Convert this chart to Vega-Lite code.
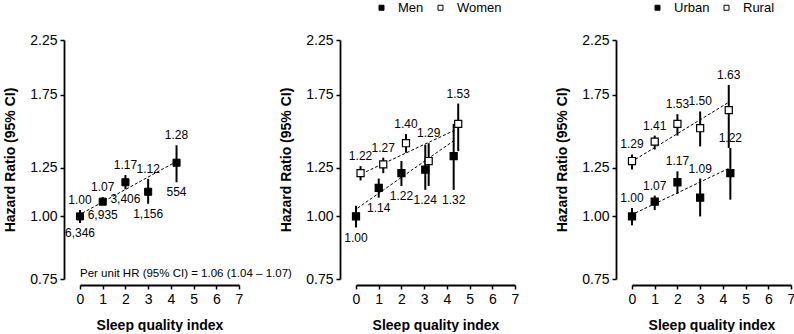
{
  "$schema": "https://vega.github.io/schema/vega-lite/v6.json",
  "padding": {"left": 3, "top": 1, "right": 0, "bottom": 0},
  "bounds": "flush",
  "spacing": 117,
  "config": {
    "font": "Liberation Sans",
    "view": {"stroke": null},
    "axis": {
      "grid": false,
      "domainColor": "black",
      "domainWidth": 1.8,
      "tickColor": "black",
      "tickWidth": 1.5,
      "tickSize": 4,
      "labelColor": "black",
      "labelFontSize": 14,
      "labelPadding": 3,
      "labelFlush": false,
      "labelOverlap": false,
      "titleColor": "black",
      "titleFontSize": 14,
      "titleFontWeight": "bold"
    },
    "legend": {
      "orient": "none",
      "legendX": 19,
      "legendY": -39,
      "direction": "horizontal",
      "symbolType": "square",
      "symbolSize": 25,
      "symbolStrokeColor": "black",
      "symbolStrokeWidth": 1,
      "labelFontSize": 13,
      "labelColor": "black",
      "labelOffset": 10,
      "columnPadding": 10
    },
    "text": {"fontSize": 12, "color": "black"}
  },
  "datasets": {
    "pts": [
      {"panel": "all", "group": "All", "x": 0, "hr": 1.00, "lo": 0.97, "hi": 1.03, "n": "6,346"},
      {"panel": "all", "group": "All", "x": 1, "hr": 1.07, "lo": 1.055, "hi": 1.093, "n": "6,935"},
      {"panel": "all", "group": "All", "x": 2, "hr": 1.17, "lo": 1.133, "hi": 1.21, "n": "3,406"},
      {"panel": "all", "group": "All", "x": 3, "hr": 1.12, "lo": 1.06, "hi": 1.188, "n": "1,156"},
      {"panel": "all", "group": "All", "x": 4.25, "hr": 1.28, "lo": 1.17, "hi": 1.387, "n": "554"},

      {"panel": "sex", "group": "Men", "x": 0, "hr": 1.00, "lo": 0.95, "hi": 1.05},
      {"panel": "sex", "group": "Men", "x": 1, "hr": 1.14, "lo": 1.09, "hi": 1.19},
      {"panel": "sex", "group": "Men", "x": 2, "hr": 1.22, "lo": 1.15, "hi": 1.29},
      {"panel": "sex", "group": "Men", "x": 3.05, "hr": 1.24, "lo": 1.13, "hi": 1.39},
      {"panel": "sex", "group": "Men", "x": 4.3, "hr": 1.32, "lo": 1.13, "hi": 1.53},
      {"panel": "sex", "group": "Women", "x": 0.2, "hr": 1.22, "lo": 1.18, "hi": 1.26},
      {"panel": "sex", "group": "Women", "x": 1.2, "hr": 1.27, "lo": 1.22, "hi": 1.31},
      {"panel": "sex", "group": "Women", "x": 2.2, "hr": 1.40, "lo": 1.34, "hi": 1.46},
      {"panel": "sex", "group": "Women", "x": 3.2, "hr": 1.29, "lo": 1.15, "hi": 1.40},
      {"panel": "sex", "group": "Women", "x": 4.5, "hr": 1.53, "lo": 1.35, "hi": 1.68},

      {"panel": "area", "group": "Urban", "x": 0, "hr": 1.00, "lo": 0.96, "hi": 1.04},
      {"panel": "area", "group": "Urban", "x": 1, "hr": 1.07, "lo": 1.03, "hi": 1.10},
      {"panel": "area", "group": "Urban", "x": 2, "hr": 1.17, "lo": 1.11, "hi": 1.23},
      {"panel": "area", "group": "Urban", "x": 3, "hr": 1.09, "lo": 1.00, "hi": 1.19},
      {"panel": "area", "group": "Urban", "x": 4.33, "hr": 1.22, "lo": 1.08, "hi": 1.37},
      {"panel": "area", "group": "Rural", "x": 0, "hr": 1.29, "lo": 1.24, "hi": 1.33},
      {"panel": "area", "group": "Rural", "x": 1, "hr": 1.41, "lo": 1.36, "hi": 1.45},
      {"panel": "area", "group": "Rural", "x": 2, "hr": 1.53, "lo": 1.45, "hi": 1.60},
      {"panel": "area", "group": "Rural", "x": 3, "hr": 1.50, "lo": 1.38, "hi": 1.62},
      {"panel": "area", "group": "Rural", "x": 4.26, "hr": 1.63, "lo": 1.37, "hi": 1.83}
    ],
    "trend": [
      {"panel": "all", "group": "All", "x": 0.1, "y": 1.015},
      {"panel": "all", "group": "All", "x": 4.15, "y": 1.28},
      {"panel": "sex", "group": "Men", "x": 0.07, "y": 1.039},
      {"panel": "sex", "group": "Men", "x": 4.34, "y": 1.42},
      {"panel": "sex", "group": "Women", "x": 0.44, "y": 1.228},
      {"panel": "sex", "group": "Women", "x": 4.34, "y": 1.486},
      {"panel": "area", "group": "Urban", "x": 0.15, "y": 1.016},
      {"panel": "area", "group": "Urban", "x": 4.26, "y": 1.247},
      {"panel": "area", "group": "Rural", "x": 0.15, "y": 1.30},
      {"panel": "area", "group": "Rural", "x": 4.26, "y": 1.69}
    ]
  },
  "resolve": {
    "scale": {"fill": "independent"},
    "legend": {"fill": "independent"}
  },
  "hconcat": [
    {
      "width": 159,
      "height": 239,
      "layer": [
        {
          "encoding": {
            "x": {"field": "x", "type": "quantitative", "scale": {"domain": [0, 7], "nice": false, "zero": false},
                  "axis": {"values": [0, 1, 2, 3, 4, 5, 6, 7], "tickCount": 8, "offset": 6, "title": "Sleep quality index", "titlePadding": 12}}
          },
          "layer": [
            {
              "data": {"name": "trend"},
              "transform": [{"filter": "datum.panel === 'all'"}],
              "mark": {"type": "line", "strokeDash": [3, 2], "strokeWidth": 1, "color": "black"},
              "encoding": {
                "y": {"field": "y", "type": "quantitative", "scale": {"type": "log", "domain": [0.75, 2.25], "nice": false, "zero": false},
                      "axis": {"values": [0.75, 1, 1.25, 1.75, 2.25], "format": ".2f", "offset": 16, "title": "Hazard Ratio (95% CI)", "titlePadding": 12}},
                "detail": {"field": "group"}
              }
            },
            {
              "data": {"name": "pts"},
              "transform": [{"filter": "datum.panel === 'all'"}],
              "mark": {"type": "rule", "strokeWidth": 2, "color": "black"},
              "encoding": {
                "y": {"field": "lo", "type": "quantitative"},
                "y2": {"field": "hi"}
              }
            },
            {
              "data": {"name": "pts"},
              "transform": [{"filter": "datum.panel === 'all'"}],
              "mark": {"type": "point", "shape": "square", "size": 50, "filled": true, "fill": "black", "stroke": "black", "strokeWidth": 1, "opacity": 1},
              "encoding": {
                "y": {"field": "hr", "type": "quantitative"}
              }
            },
            {
              "data": {"name": "pts"},
              "transform": [{"filter": "datum.panel === 'all'"}],
              "mark": {"type": "text", "baseline": "middle", "dy": -10},
              "encoding": {
                "y": {"field": "hi", "type": "quantitative"},
                "text": {"field": "hr", "type": "quantitative", "format": ".2f"}
              }
            },
            {
              "data": {"name": "pts"},
              "transform": [{"filter": "datum.panel === 'all'"}],
              "mark": {"type": "text", "baseline": "middle", "dy": 10},
              "encoding": {
                "y": {"field": "lo", "type": "quantitative"},
                "text": {"field": "n", "type": "nominal"}
              }
            }
          ]
        },
        {
          "data": {"values": [{"note": "Per unit HR (95% CI) = 1.06 (1.04 – 1.07)"}]},
          "mark": {"type": "text", "align": "left", "baseline": "alphabetic", "dy": -2, "fontSize": 11.5},
          "encoding": {
            "x": {"datum": 0, "type": "quantitative"},
            "y": {"datum": 0.75, "type": "quantitative"},
            "text": {"field": "note", "type": "nominal"}
          }
        }
      ]
    },
    {
      "width": 159,
      "height": 239,
      "encoding": {
        "x": {"field": "x", "type": "quantitative", "scale": {"domain": [0, 7], "nice": false, "zero": false},
              "axis": {"values": [0, 1, 2, 3, 4, 5, 6, 7], "tickCount": 8, "offset": 6, "title": "Sleep quality index", "titlePadding": 12}}
      },
      "layer": [
        {
          "data": {"name": "trend"},
          "transform": [{"filter": "datum.panel === 'sex'"}],
          "mark": {"type": "line", "strokeDash": [3, 2], "strokeWidth": 1, "color": "black"},
          "encoding": {
            "y": {"field": "y", "type": "quantitative", "scale": {"type": "log", "domain": [0.75, 2.25], "nice": false, "zero": false},
                  "axis": {"values": [0.75, 1, 1.25, 1.75, 2.25], "format": ".2f", "offset": 16, "title": "Hazard Ratio (95% CI)", "titlePadding": 12}},
            "detail": {"field": "group"}
          }
        },
        {
          "data": {"name": "pts"},
          "transform": [{"filter": "datum.panel === 'sex'"}],
          "mark": {"type": "rule", "strokeWidth": 2, "color": "black"},
          "encoding": {
            "y": {"field": "lo", "type": "quantitative"},
            "y2": {"field": "hi"}
          }
        },
        {
          "data": {"name": "pts"},
          "transform": [{"filter": "datum.panel === 'sex'"}],
          "mark": {"type": "point", "shape": "square", "size": 50, "filled": true, "stroke": "black", "strokeWidth": 1.2, "opacity": 1},
          "encoding": {
            "y": {"field": "hr", "type": "quantitative"},
            "fill": {"field": "group", "type": "nominal", "scale": {"domain": ["Men", "Women"], "range": ["black", "white"]}, "legend": {"title": null}}
          }
        },
        {
          "data": {"name": "pts"},
          "transform": [{"filter": "datum.panel === 'sex' && datum.group === 'Women'"}],
          "mark": {"type": "text", "baseline": "middle", "dy": -10},
          "encoding": {
            "y": {"field": "hi", "type": "quantitative"},
            "text": {"field": "hr", "type": "quantitative", "format": ".2f"}
          }
        },
        {
          "data": {"name": "pts"},
          "transform": [{"filter": "datum.panel === 'sex' && datum.group === 'Men'"}],
          "mark": {"type": "text", "baseline": "middle", "dy": 10},
          "encoding": {
            "y": {"field": "lo", "type": "quantitative"},
            "text": {"field": "hr", "type": "quantitative", "format": ".2f"}
          }
        }
      ]
    },
    {
      "width": 159,
      "height": 239,
      "encoding": {
        "x": {"field": "x", "type": "quantitative", "scale": {"domain": [0, 7], "nice": false, "zero": false},
              "axis": {"values": [0, 1, 2, 3, 4, 5, 6, 7], "tickCount": 8, "offset": 6, "title": "Sleep quality index", "titlePadding": 12}}
      },
      "layer": [
        {
          "data": {"name": "trend"},
          "transform": [{"filter": "datum.panel === 'area'"}],
          "mark": {"type": "line", "strokeDash": [3, 2], "strokeWidth": 1, "color": "black"},
          "encoding": {
            "y": {"field": "y", "type": "quantitative", "scale": {"type": "log", "domain": [0.75, 2.25], "nice": false, "zero": false},
                  "axis": {"values": [0.75, 1, 1.25, 1.75, 2.25], "format": ".2f", "offset": 16, "title": "Hazard Ratio (95% CI)", "titlePadding": 12}},
            "detail": {"field": "group"}
          }
        },
        {
          "data": {"name": "pts"},
          "transform": [{"filter": "datum.panel === 'area'"}],
          "mark": {"type": "rule", "strokeWidth": 2, "color": "black"},
          "encoding": {
            "y": {"field": "lo", "type": "quantitative"},
            "y2": {"field": "hi"}
          }
        },
        {
          "data": {"name": "pts"},
          "transform": [{"filter": "datum.panel === 'area'"}],
          "mark": {"type": "point", "shape": "square", "size": 50, "filled": true, "stroke": "black", "strokeWidth": 1.2, "opacity": 1},
          "encoding": {
            "y": {"field": "hr", "type": "quantitative"},
            "fill": {"field": "group", "type": "nominal", "scale": {"domain": ["Urban", "Rural"], "range": ["black", "white"]}, "legend": {"title": null}}
          }
        },
        {
          "data": {"name": "pts"},
          "transform": [{"filter": "datum.panel === 'area'"}],
          "mark": {"type": "text", "baseline": "middle", "dy": -10},
          "encoding": {
            "y": {"field": "hi", "type": "quantitative"},
            "text": {"field": "hr", "type": "quantitative", "format": ".2f"}
          }
        }
      ]
    }
  ]
}
